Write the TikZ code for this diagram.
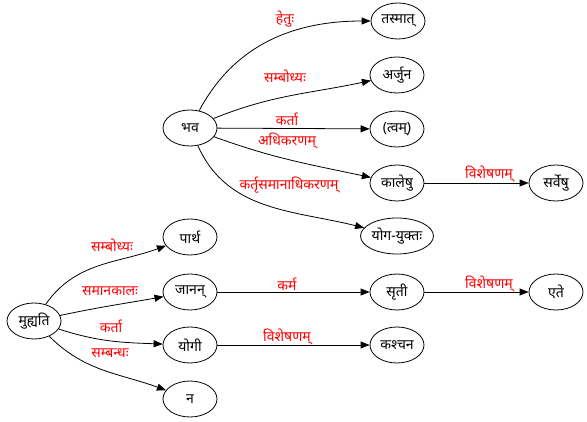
\documentclass[tikz,border=0pt]{standalone}
\usepackage{fontspec}
\setmainfont{Liberation Serif}
\newfontfamily\deva[Script=Devanagari]{Noto Sans}
\usetikzlibrary{shapes.geometric, arrows.meta, positioning}
\definecolor{relred}{HTML}{FF0000}

\begin{document}
\begin{tikzpicture}[
    x=1pt, y=-1pt,
    >={Triangle[length=9pt, width=7pt]},
    % --- node styles ---
    word/.style={
        ellipse, draw=black, line width=0.8pt,
        minimum width=54pt, minimum height=36pt, inner sep=0.5pt,
        font=\deva\fontsize{14}{16}\selectfont
    },
    rel/.style={
        text=relred, inner sep=0pt,
        font=\deva\fontsize{14}{16}\selectfont
    },
    arrow/.style={->, line width=0.8pt, color=black},
]
\useasboundingbox (0,0) rectangle (587,422);

% ===== HEAD: bhava =====
\node[word] (bhava) at (190,128) {भव};

\node[word] (tasmat) at (398,21) {तस्मात्};
\node[word] (arjuna) at (397,75) {अर्जुन};
\node[word] (tvam) at (397,129) {(त्वम्)};
\node[word] (kaleshu) at (397,183) {कालेषु};
\node[word] (yogayukta) at (397,236) {योग-युक्तः};
\node[word] (sarveshu) at (556,183) {सर्वेषु};

\draw[arrow] (bhava) to[out=62, in=180] (tasmat);
\node[rel] (hetu) at (285,19) {हेतुः};

\draw[arrow] (bhava) to[out=22, in=192] (arjuna);
\node[rel] (sambodhya1) at (285,76) {सम्बोध्यः};

\draw[arrow] (bhava) -- (tvam);
\node[rel] (karta1) at (287,119) {कर्ता};

\draw[arrow] (bhava) to[out=-20, in=168] (kaleshu);
\node[rel] (adhikarana) at (287,141) {अधिकरणम्};

\draw[arrow] (bhava) to[out=-66, in=166] (yogayukta);
\node[rel] (kartrsamana) at (289,185) {कर्तृसमानाधिकरणम्};

\draw[arrow] (kaleshu) -- (sarveshu);
\node[rel] (visheshana1) at (489,174) {विशेषणम्};

% ===== HEAD: muhyati =====
\node[word] (muhyati) at (34,321) {मुह्यति};

\node[word] (partha) at (190,237) {पार्थ};
\node[word] (janan) at (190,292) {जानन्};
\node[word] (yogi) at (190,345) {योगी};
\node[word] (na) at (190,399) {न};
\node[word] (sruti) at (397,292) {सृती};
\node[word] (ete) at (556,292) {एते};
\node[word] (kashcana) at (397,345) {कश्चन};

\draw[arrow] (muhyati) to[out=55, in=200] (partha);
\node[rel] (sambodhya2) at (112,245) {सम्बोध्यः};

\draw[arrow] (muhyati) to[out=-18, in=178] (yogi);
\node[rel] (karta2) at (111,326) {कर्ता};

\draw[arrow] (muhyati) to[out=12, in=190] (janan);
\node[rel] (samanakala) at (110,291) {समानकालः};

\draw[arrow] (muhyati) to[out=-45, in=160] (na);
\node[rel] (sambandha) at (110,353) {सम्बन्धः};

\draw[arrow] (janan) -- (sruti);
\node[rel] (karma) at (287,284) {कर्म};

\draw[arrow] (sruti) -- (ete);
\node[rel] (visheshana2) at (489,284) {विशेषणम्};

\draw[arrow] (yogi) -- (kashcana);
\node[rel] (visheshana3) at (287,337) {विशेषणम्};

\end{tikzpicture}
\end{document}
